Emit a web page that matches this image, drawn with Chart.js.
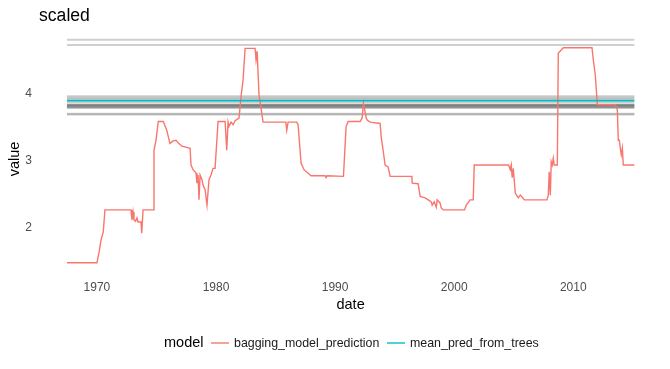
<!DOCTYPE html>
<html>
<head>
<meta charset="utf-8">
<script src="https://cdn.jsdelivr.net/npm/chart.js@4.4.1/dist/chart.umd.min.js"></script>
<style>
    body { margin: 0; background: #fff; }
    #wrap { width: 670px; height: 369px; position: relative; }
</style>
</head>
<body>
<div id="wrap"><canvas id="chart"></canvas></div>
<script>
// bagging model prediction over time (decimal years)
const predDates = [1967.48, 1970.00, 1970.19, 1970.34, 1970.53, 1970.67, 1972.86, 1972.94, 1973.03, 1973.11,
    1973.24, 1973.36, 1973.45, 1973.70, 1973.76, 1973.87, 1974.73, 1974.79, 1974.96, 1975.15,
    1975.57, 1975.86, 1976.13, 1976.39, 1976.64, 1976.81, 1977.14, 1977.82, 1977.90, 1978.07,
    1978.32, 1978.40, 1978.49, 1978.57, 1978.66, 1978.82, 1978.91, 1979.08, 1979.24, 1979.41,
    1979.58, 1979.75, 1979.92, 1980.17, 1980.76, 1980.90, 1981.01, 1981.09, 1981.26, 1981.43,
    1981.60, 1981.93, 1982.10, 1982.27, 1982.44, 1983.28, 1983.36, 1983.45, 1983.61, 1983.78,
    1983.95, 1985.86, 1985.94, 1986.05, 1986.78, 1986.89, 1987.14, 1987.39, 1987.98, 1989.16,
    1989.24, 1989.32, 1990.70, 1990.92, 1991.09, 1992.10, 1992.27, 1992.38, 1992.52, 1992.61,
    1992.69, 1992.94, 1993.78, 1993.87, 1994.03, 1994.20, 1994.45, 1994.62, 1996.45, 1996.47,
    1996.97, 1997.14, 1997.56, 1997.82, 1998.07, 1998.15, 1998.32, 1998.49, 1998.57, 1998.82,
    1998.91, 1999.08, 2000.87, 2001.01, 2001.34, 2001.60, 2001.68, 2004.56, 2004.71, 2004.79,
    2004.87, 2004.96, 2005.13, 2005.38, 2005.55, 2005.71, 2005.88, 2007.79, 2007.90, 2007.98,
    2008.07, 2008.15, 2008.24, 2008.32, 2008.40, 2008.66, 2008.74, 2008.91, 2009.16, 2011.57,
    2011.68, 2011.85, 2012.02, 2013.53, 2013.70, 2013.78, 2013.87, 2013.95, 2014.03, 2014.12,
    2014.20, 2015.13];
const predValues = [1.47, 1.47, 1.64, 1.81, 1.93, 2.26, 2.26, 2.11, 2.23, 2.11,
    2.09, 2.14, 2.08, 2.08, 1.91, 2.26, 2.26, 3.15, 3.30, 3.58,
    3.58, 3.45, 3.25, 3.29, 3.30, 3.26, 3.21, 3.18, 2.93, 2.86,
    2.81, 2.66, 2.78, 2.41, 2.78, 2.71, 2.63, 2.56, 2.33, 2.71,
    2.78, 2.88, 2.88, 3.58, 3.58, 3.15, 3.57, 3.51, 3.57, 3.53,
    3.59, 3.63, 3.95, 4.20, 4.67, 4.67, 4.50, 4.63, 3.97, 3.78,
    3.57, 3.57, 3.45, 3.57, 3.57, 3.53, 2.96, 2.86, 2.77, 2.77,
    2.74, 2.77, 2.76, 3.50, 3.58, 3.58, 3.63, 3.85, 3.72, 3.63,
    3.60, 3.57, 3.55, 3.35, 3.15, 2.93, 2.90, 2.76, 2.76, 2.66,
    2.65, 2.46, 2.44, 2.41, 2.38, 2.33, 2.38, 2.30, 2.41, 2.36,
    2.29, 2.26, 2.26, 2.33, 2.41, 2.41, 2.93, 2.93, 2.86, 2.93,
    2.74, 2.88, 2.51, 2.44, 2.48, 2.45, 2.41, 2.41, 2.48, 2.83,
    2.48, 2.98, 2.93, 3.03, 2.93, 2.93, 4.60, 4.63, 4.68, 4.68,
    4.50, 4.27, 3.83, 3.83, 3.75, 3.30, 3.30, 3.18, 3.08, 3.18,
    2.93, 2.93];

// mean prediction of the individual trees
const meanDates = [1967.48, 2015.13];
const meanValues = [3.89, 3.89];

// individual tree predictions (flat lines, drawn translucent grey)
const treeValues = [4.80, 4.72, 3.955, 3.935, 3.91, 3.87, 3.835, 3.825, 3.82, 3.81, 3.80, 3.79, 3.78, 3.695, 3.685];

const xTicks = [1970, 1980, 1990, 2000, 2010];
const yTicks = [2, 3, 4];

const FONT = "'Liberation Sans', Arial, sans-serif";
const RED = '#F8766D';
const TEAL = '#00BFC4';

const toPoints = (xs, ys) => xs.map((x, i) => ({ x: x, y: ys[i] }));

const treeSets = treeValues.map(v => ({
    label: 'tree',
    data: toPoints([predDates[0], predDates[predDates.length - 1]], [v, v]),
    borderColor: 'rgba(0, 0, 0, 0.19)',
    borderWidth: 2,
    pointRadius: 0,
    order: 3
}));

// title, y axis title and ggplot-style legend drawn on the canvas
const decorations = {
    id: 'decorations',
    afterDraw(chart) {
        const ctx = chart.ctx;
        ctx.save();
        ctx.fillStyle = '#000';
        ctx.textBaseline = 'alphabetic';
        ctx.textAlign = 'left';
        ctx.font = '17.6px ' + FONT;
        ctx.fillText('scaled', 39, 20.5);

        // y axis title
        ctx.save();
        ctx.translate(15, 159);
        ctx.rotate(-Math.PI / 2);
        ctx.textAlign = 'center';
        ctx.textBaseline = 'middle';
        ctx.font = '14.5px ' + FONT;
        ctx.fillText('value', 0, 0);
        ctx.restore();

        const ly = 343;
        ctx.textBaseline = 'middle';
        ctx.font = '14.5px ' + FONT;
        ctx.fillText('model', 164, ly);
        ctx.font = '12.4px ' + FONT;
        ctx.fillStyle = '#1a1a1a';
        const items = [
            { x: 211, color: RED, text: 'bagging_model_prediction' },
            { x: 387, color: TEAL, text: 'mean_pred_from_trees' }
        ];
        items.forEach(it => {
            ctx.strokeStyle = it.color;
            ctx.lineWidth = 1.4;
            ctx.beginPath();
            ctx.moveTo(it.x, ly);
            ctx.lineTo(it.x + 18, ly);
            ctx.stroke();
            ctx.fillText(it.text, it.x + 23, ly + 0.5);
        });
        ctx.restore();
    }
};

const ctx = document.getElementById('chart').getContext('2d');
new Chart(ctx, {
    type: 'line',
    data: {
        datasets: [
            {
                label: 'bagging_model_prediction',
                data: toPoints(predDates, predValues),
                borderColor: RED,
                borderWidth: 1.4,
                pointRadius: 0,
                order: 2
            },
            {
                label: 'mean_pred_from_trees',
                data: toPoints(meanDates, meanValues),
                borderColor: TEAL,
                borderWidth: 1.6,
                pointRadius: 0,
                order: 1
            },
            ...treeSets
        ]
    },
    options: {
        responsive: true,
        maintainAspectRatio: false,
        animation: false,
        layout: { padding: { top: 28.3, right: 7.4, bottom: 50, left: 0 } },
        plugins: {
            legend: { display: false },
            title: { display: false },
            tooltip: { enabled: false }
        },
        scales: {
            x: {
                type: 'linear',
                min: 1965.1,
                max: 2017.5,
                grid: { display: false, drawTicks: false },
                border: { display: false },
                afterFit: scale => { scale.height = 44.8; },
                afterBuildTicks: scale => { scale.ticks = xTicks.map(v => ({ value: v })); },
                ticks: {
                    padding: 6.6,
                    color: '#4d4d4d',
                    font: { family: FONT, size: 12 },
                    maxRotation: 0,
                    callback: v => String(v)
                },
                title: {
                    display: true,
                    text: 'date',
                    color: '#000',
                    font: { family: FONT, size: 14.5 },
                    padding: { top: 0, bottom: 5.3 }
                }
            },
            y: {
                min: 1.30,
                max: 4.97,
                grid: { display: false, drawTicks: false },
                border: { display: false },
                afterFit: scale => { scale.width = 38.6; },
                afterBuildTicks: scale => { scale.ticks = yTicks.map(v => ({ value: v })); },
                ticks: {
                    padding: 6.6,
                    color: '#4d4d4d',
                    font: { family: FONT, size: 12 },
                    callback: v => String(v)
                }
            }
        }
    },
    plugins: [decorations]
});
</script>
</body>
</html>
